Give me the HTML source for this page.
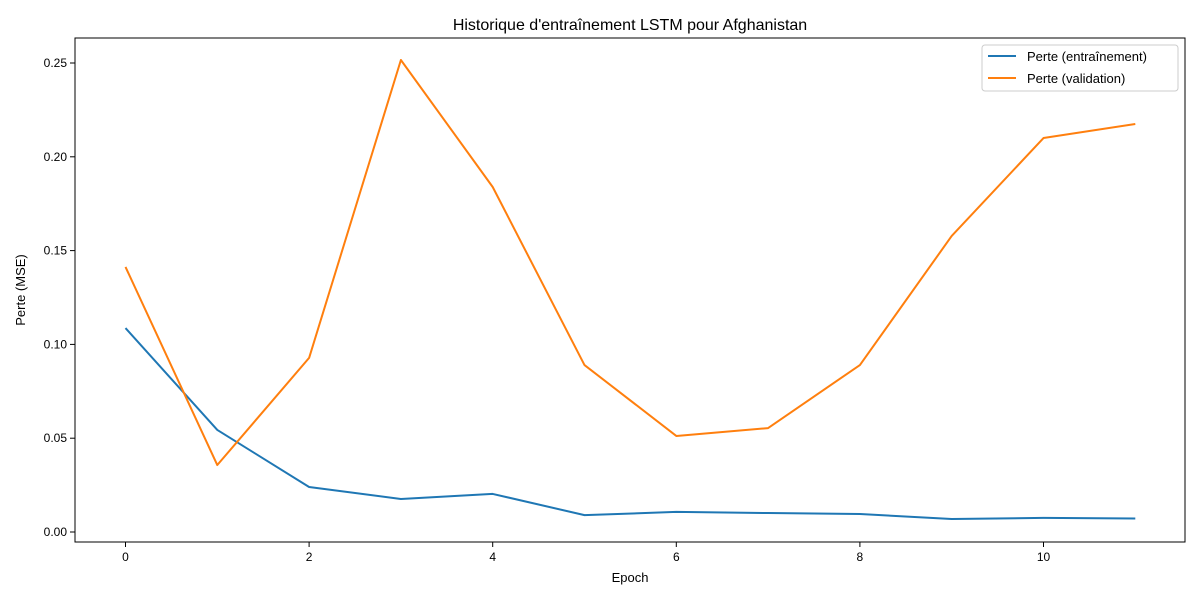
<!DOCTYPE html>
<html><head><meta charset="utf-8"><style>
body{margin:0;background:#fff;font-family:"Liberation Sans","DejaVu Sans",sans-serif;}
</style></head><body>
<svg id="chart" width="1200" height="600" xmlns="http://www.w3.org/2000/svg"></svg>
<script>
const epochs=[0,1,2,3,4,5,6,7,8,9,10,11];
const trainLoss=[0.1087,0.0544,0.024,0.0176,0.0203,0.009,0.0107,0.0101,0.0096,0.0069,0.0075,0.0072];
const valLoss=[0.1413,0.0357,0.0928,0.2516,0.1839,0.089,0.0512,0.0554,0.089,0.1578,0.21,0.2175];
const xTicks=[0,2,4,6,8,10];
const yTicks=[0,0.05,0.10,0.15,0.20,0.25];
const L=75,R=1185,T=38,B=542;
const x=v=>125.5+v*91.8;
const y=v=>532-v*1876;
const svg=document.getElementById('chart');
const NS='http://www.w3.org/2000/svg';
function mk(tag,attrs,parent){const e=document.createElementNS(NS,tag);for(const k in attrs)e.setAttribute(k,attrs[k]);(parent||svg).appendChild(e);return e;}
let t=mk('text',{x:630,y:30,'text-anchor':'middle','font-size':16,fill:'#000'});t.textContent="Historique d'entraînement LSTM pour Afghanistan";


xTicks.forEach(v=>{const X=x(v);mk('line',{x1:X,x2:X,y1:B,y2:B+5,stroke:'#000'});const tx=mk('text',{x:X,y:B+19,'text-anchor':'middle','font-size':12});tx.textContent=v;

});
yTicks.forEach(v=>{const Y=y(v);mk('line',{x1:L-5,x2:L,y1:Y,y2:Y,stroke:'#000'});const tx=mk('text',{x:L-8,y:Y+4,'text-anchor':'end','font-size':12});tx.textContent=v.toFixed(2);

});
t=mk('text',{x:630,y:582,'text-anchor':'middle','font-size':13});t.textContent='Epoch';


t=mk('text',{x:25,y:290,'text-anchor':'middle','font-size':13,transform:'rotate(-90 25 290)'});t.textContent='Perte (MSE)';


function line(data,color,name){const p=mk('polyline',{points:data.map((v,i)=>x(epochs[i])+','+y(v)).join(' '),fill:'none',stroke:color,'stroke-width':2,'stroke-linejoin':'round'});

}
line(trainLoss,'#1f77b4','train-loss-line');
line(valLoss,'#ff7f0e','validation-loss-line');
const fr=mk('rect',{x:L,y:T,width:R-L,height:B-T,fill:'none',stroke:'#000','stroke-width':1});


const lg=mk('g',{});


mk('rect',{x:982,y:45,width:196,height:46,fill:'#fff',stroke:'#ccc',rx:3},lg);
[['Perte (entraînement)','#1f77b4'],['Perte (validation)','#ff7f0e']].forEach((d,i)=>{const Y=56+i*22;mk('line',{x1:988,x2:1016,y1:Y,y2:Y,stroke:d[1],'stroke-width':2},lg);const tx=mk('text',{x:1027,y:Y+5,'font-size':13},lg);tx.textContent=d[0];

});
</script>
</body></html>
